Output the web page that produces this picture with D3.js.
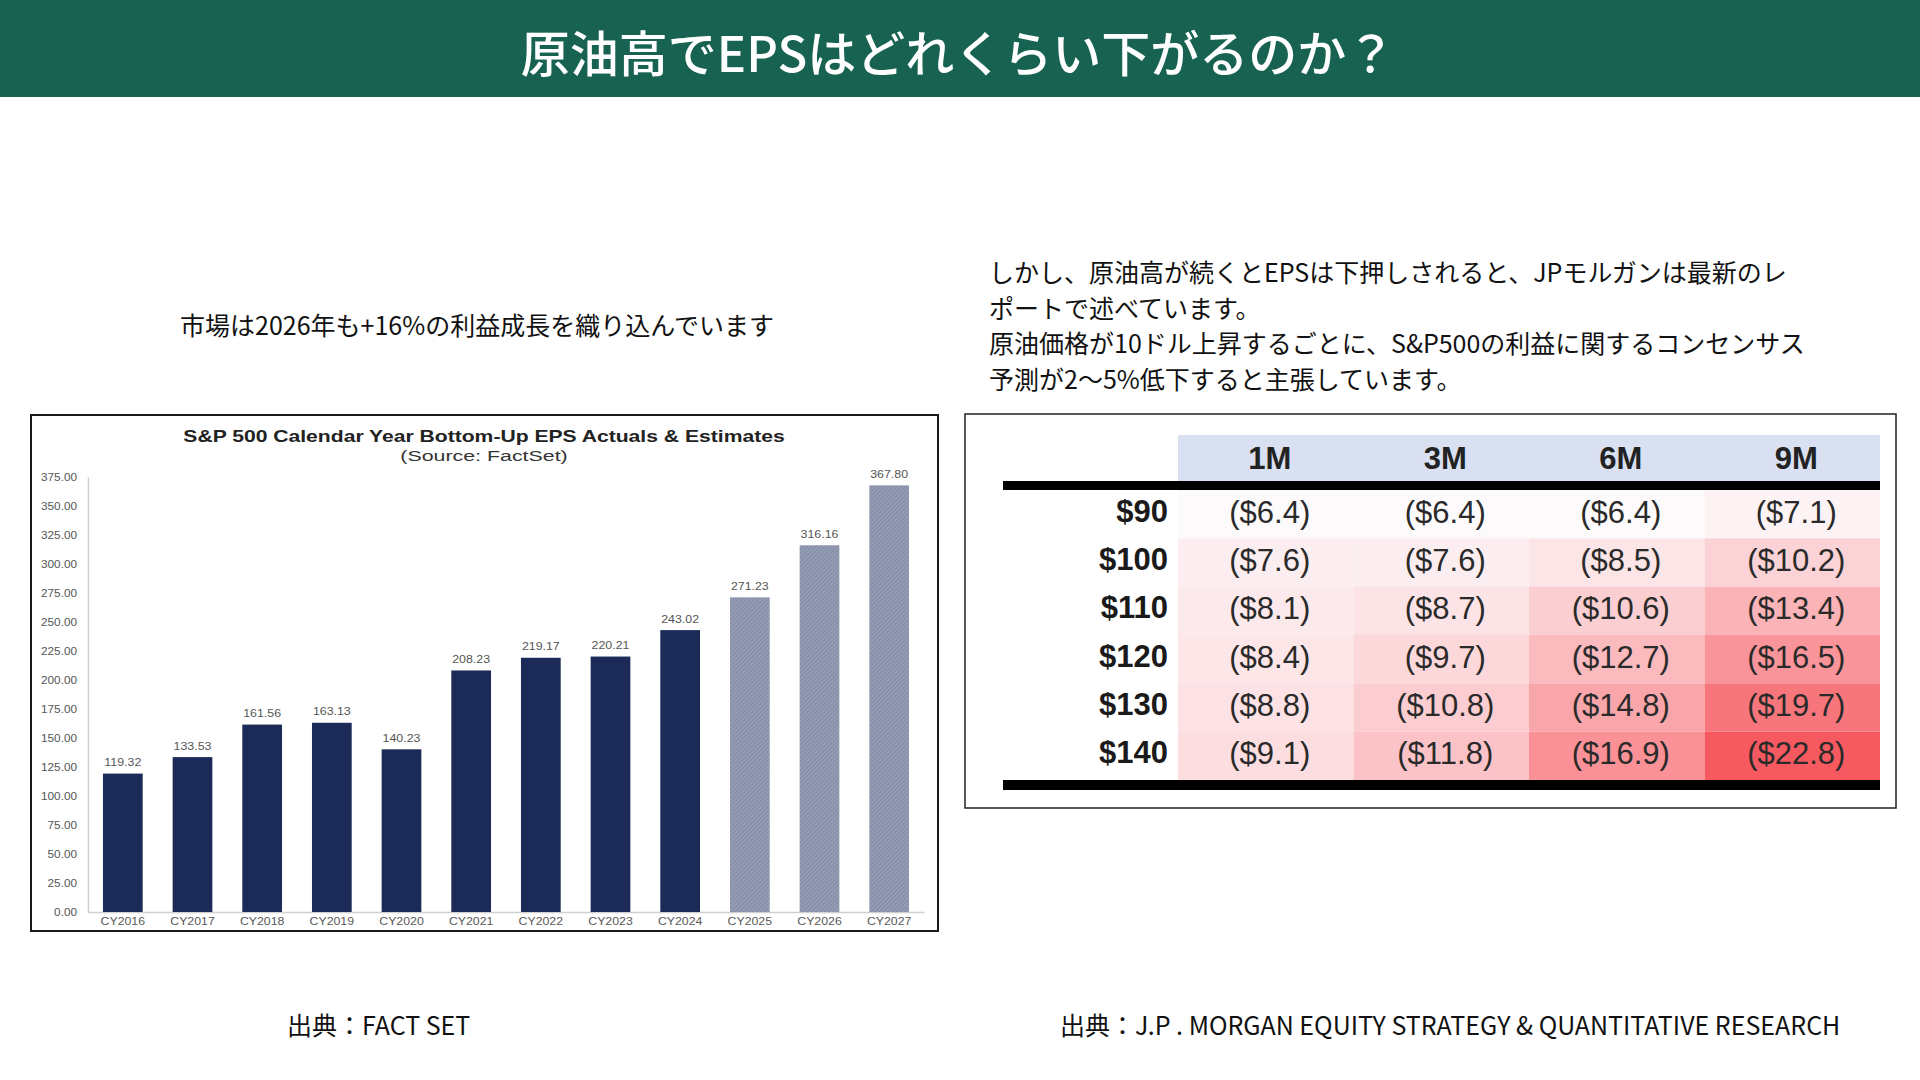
<!DOCTYPE html>
<html>
<head>
<meta charset="utf-8">
<script src="https://cdn.jsdelivr.net/npm/d3@7"></script>
<style>
  body { margin: 0; background: #fff; }
  svg { display: block; }
</style>
</head>
<body>
<svg id="chart" width="1920" height="1080"></svg>
<script>
// ---- data ----
const years = ["CY2016", "CY2017", "CY2018", "CY2019", "CY2020", "CY2021",
               "CY2022", "CY2023", "CY2024", "CY2025", "CY2026", "CY2027"];
const eps = [119.32, 133.53, 161.56, 163.13, 140.23, 208.23,
             219.17, 220.21, 243.02, 271.23, 316.16, 367.80];
const isEstimate = [false, false, false, false, false, false,
                    false, false, false, true, true, true];
const yTicks = [0, 25, 50, 75, 100, 125, 150, 175, 200, 225, 250, 275, 300, 325, 350, 375];

const oilPrices = ["$90", "$100", "$110", "$120", "$130", "$140"];
const horizons = ["1M", "3M", "6M", "9M"];
const hit1M = [6.4, 7.6, 8.1, 8.4, 8.8, 9.1];
const hit3M = [6.4, 7.6, 8.7, 9.7, 10.8, 11.8];
const hit6M = [6.4, 8.5, 10.6, 12.7, 14.8, 16.9];
const hit9M = [7.1, 10.2, 13.4, 16.5, 19.7, 22.8];

const pageTitle = "原油高でEPSはどれくらい下がるのか？";
const leftNote = "市場は2026年も+16%の利益成長を織り込んでいます";
const rightNote = [
  "しかし、原油高が続くとEPSは下押しされると、JPモルガンは最新のレ",
  "ポートで述べています。",
  "原油価格が10ドル上昇するごとに、S&P500の利益に関するコンセンサス",
  "予測が2〜5%低下すると主張しています。"
];
const chartTitle = "S&P 500 Calendar Year Bottom-Up EPS Actuals & Estimates";
const chartSub = "(Source: FactSet)";
const leftSource = "出典：FACT SET";
const rightSource = "出典：J.P . MORGAN EQUITY STRATEGY & QUANTITATIVE RESEARCH";

const JP = "'Noto Sans CJK JP', 'Noto Sans', sans-serif";
const AR = "'Liberation Sans', Arial, sans-serif";

const svg = d3.select("#chart");

// the embedded FactSet picture is a bit wider than true Arial, so stretch text sideways
function stretch(sel, sx) {
  sel.attr("transform", function () {
    const t = this.getAttribute("x") || 0;
    return `translate(${t},0) scale(${sx},1) translate(${-t},0)`;
  });
}

// ---- header ----
svg.append("rect")
  .attr("x", 0).attr("y", 0).attr("width", 1920).attr("height", 97)
  .attr("fill", "#186252");
svg.append("text")
  .attr("x", 958).attr("y", 50)
  .attr("text-anchor", "middle").attr("dominant-baseline", "central")
  .attr("font-family", JP).attr("font-size", 49).attr("font-weight", 500)
  .attr("fill", "#fff")
  .text(pageTitle);

// ---- notes ----
svg.append("text")
  .attr("x", 477).attr("y", 324)
  .attr("text-anchor", "middle").attr("dominant-baseline", "central")
  .attr("font-family", JP).attr("font-size", 25).attr("fill", "#111")
  .text(leftNote);

svg.append("g").selectAll("text")
  .data(rightNote)
  .join("text")
  .attr("x", 989)
  .attr("y", (d, i) => 271 + i * 35.7)
  .attr("dominant-baseline", "central")
  .attr("font-family", JP).attr("font-size", 25).attr("fill", "#111")
  .text(d => d);

svg.append("text")
  .attr("x", 287).attr("y", 1024)
  .attr("dominant-baseline", "central")
  .attr("font-family", JP).attr("font-size", 25).attr("fill", "#111")
  .text(leftSource);
svg.append("text")
  .attr("x", 1060).attr("y", 1024)
  .attr("dominant-baseline", "central")
  .attr("font-family", JP).attr("font-size", 25).attr("fill", "#111")
  .text(rightSource);

// ---- left: EPS bar chart ----
const defs = svg.append("defs");
const pat = defs.append("pattern")
  .attr("id", "hatch")
  .attr("patternUnits", "userSpaceOnUse")
  .attr("width", 3).attr("height", 3)
  .attr("patternTransform", "rotate(45)");
pat.append("rect").attr("width", 3).attr("height", 3).attr("fill", "#959db5");
pat.append("line")
  .attr("x1", 0).attr("y1", 0).attr("x2", 0).attr("y2", 3)
  .attr("stroke", "#737d99").attr("stroke-width", 1.2);

svg.append("rect")
  .attr("x", 31).attr("y", 415).attr("width", 907).attr("height", 516)
  .attr("fill", "#fff").attr("stroke", "#1a1a1a").attr("stroke-width", 2);

svg.append("text")
  .attr("x", 484).attr("y", 436)
  .attr("text-anchor", "middle").attr("dominant-baseline", "central")
  .attr("font-family", AR).attr("font-size", 16.5).attr("font-weight", "bold")
  .attr("fill", "#222")
  .text(chartTitle)
  .call(stretch, 1.28);
svg.append("text")
  .attr("x", 484).attr("y", 456)
  .attr("text-anchor", "middle").attr("dominant-baseline", "central")
  .attr("font-family", AR).attr("font-size", 15.5)
  .attr("fill", "#333")
  .text(chartSub)
  .call(stretch, 1.38);

const x = d3.scaleBand()
  .domain(years)
  .range([88, 924])
  .paddingInner(0.43)
  .paddingOuter(0.215);

const y = d3.scaleLinear()
  .domain([0, 375])
  .range([912, 477]);

const yAxis = svg.append("g")
  .attr("transform", "translate(88,0)")
  .call(d3.axisLeft(y).tickValues(yTicks).tickFormat(d3.format(".2f")).tickSize(0).tickPadding(11));
yAxis.select(".domain").attr("stroke", "#d0d0d0").attr("stroke-width", 1.5);
yAxis.selectAll("text")
  .attr("font-family", AR).attr("font-size", 11).attr("fill", "#555")
  .call(stretch, 1.07);

const xAxis = svg.append("g")
  .attr("transform", "translate(0,912)")
  .call(d3.axisBottom(x).tickSize(0).tickPadding(5));
xAxis.select(".domain").attr("stroke", "#d0d0d0").attr("stroke-width", 1.5);
xAxis.selectAll("text")
  .attr("font-family", AR).attr("font-size", 11).attr("fill", "#5a5a5a")
  .call(stretch, 1.12);

const barData = years.map((yr, i) => ({ yr, v: eps[i], est: isEstimate[i] }));

svg.append("g").selectAll("rect")
  .data(barData)
  .join("rect")
  .attr("x", d => x(d.yr))
  .attr("y", d => y(d.v))
  .attr("width", x.bandwidth())
  .attr("height", d => y(0) - y(d.v))
  .attr("fill", d => d.est ? "url(#hatch)" : "#1b2a56");

svg.append("g").selectAll("text")
  .data(barData)
  .join("text")
  .attr("x", d => x(d.yr) + x.bandwidth() / 2)
  .attr("y", d => y(d.v) - 11)
  .attr("text-anchor", "middle").attr("dominant-baseline", "central")
  .attr("font-family", AR).attr("font-size", 10.5).attr("fill", "#555")
  .text(d => d3.format(".2f")(d.v))
  .call(stretch, 1.18);

// ---- right: oil price sensitivity table ----
svg.append("rect")
  .attr("x", 965).attr("y", 414).attr("width", 931).attr("height", 394)
  .attr("fill", "#fff").attr("stroke", "#222").attr("stroke-width", 1.5);

const colX = d3.scaleBand().domain(horizons).range([1178, 1880]);
const rowY = d3.scaleBand().domain(oilPrices).range([490, 780]);

const hits = [hit1M, hit3M, hit6M, hit9M];
const allHits = hits.flat();
const heat = d3.scaleLinear()
  .domain([d3.min(allHits), d3.max(allHits)])
  .range(["#fdfafc", "#f6595f"])
  .interpolate(d3.interpolateRgb.gamma(0.9));

const cells = [];
horizons.forEach((h, c) => {
  oilPrices.forEach((p, r) => cells.push({ h, p, v: hits[c][r] }));
});

// header band
svg.append("rect")
  .attr("x", colX.range()[0]).attr("y", 435)
  .attr("width", colX.range()[1] - colX.range()[0]).attr("height", 46)
  .attr("fill", "#d9e0f1");

svg.append("g").selectAll("text")
  .data(horizons)
  .join("text")
  .attr("x", d => colX(d) + colX.bandwidth() / 2 + 4)
  .attr("y", 458)
  .attr("text-anchor", "middle").attr("dominant-baseline", "central")
  .attr("font-family", AR).attr("font-size", 31).attr("font-weight", "bold")
  .attr("fill", "#222")
  .text(d => d);

svg.append("g").selectAll("rect")
  .data(cells)
  .join("rect")
  .attr("x", d => colX(d.h))
  .attr("y", d => rowY(d.p))
  .attr("width", colX.bandwidth())
  .attr("height", rowY.bandwidth())
  .attr("fill", d => heat(d.v));

svg.append("g").selectAll("text")
  .data(cells)
  .join("text")
  .attr("x", d => colX(d.h) + colX.bandwidth() / 2 + 4)
  .attr("y", d => rowY(d.p) + rowY.bandwidth() / 2 - 2)
  .attr("text-anchor", "middle").attr("dominant-baseline", "central")
  .attr("font-family", AR).attr("font-size", 31)
  .attr("fill", "#2a2a2a")
  .text(d => `($${d3.format(".1f")(d.v)})`);

svg.append("g").selectAll("text")
  .data(oilPrices)
  .join("text")
  .attr("x", 1168)
  .attr("y", d => rowY(d) + rowY.bandwidth() / 2 - 3)
  .attr("text-anchor", "end").attr("dominant-baseline", "central")
  .attr("font-family", AR).attr("font-size", 31).attr("font-weight", "bold")
  .attr("fill", "#1a1a1a")
  .text(d => d);

// heavy rules
svg.append("rect")
  .attr("x", 1003).attr("y", 481)
  .attr("width", colX.range()[1] - 1003).attr("height", 9)
  .attr("fill", "#000");
svg.append("rect")
  .attr("x", 1003).attr("y", 780)
  .attr("width", colX.range()[1] - 1003).attr("height", 10)
  .attr("fill", "#000");
</script>
</body>
</html>
